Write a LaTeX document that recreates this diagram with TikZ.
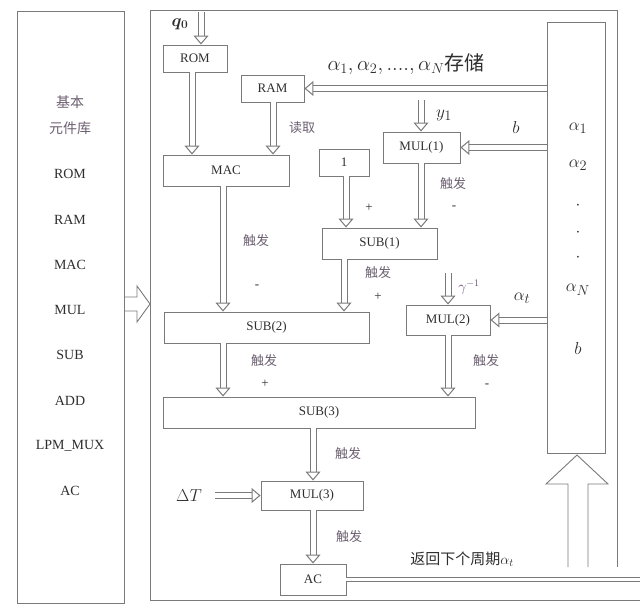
\documentclass[tikz,border=0pt]{standalone}
\usepackage{amsmath}
\usepackage{fontspec}
\setmainfont{Liberation Serif}
\newfontfamily\cjk{Noto Sans CJK SC}
\usetikzlibrary{arrows.meta}
\definecolor{lg}{HTML}{7A7A7A}
\definecolor{tx}{HTML}{2E2E2E}
\definecolor{cn}{HTML}{6B5E70}
\definecolor{gm}{HTML}{6A4A7A}
\begin{document}
\begin{tikzpicture}[x=1pt,y=-1pt,
  blk/.style={draw=lg,line width=0.9pt,inner sep=0pt,text=tx,font=\fontsize{13}{13}\selectfont},
  dbl/.style={draw=lg,line width=1pt,double=white,double distance=5pt,
    -{Triangle[open,length=9pt,width=15pt,line width=1pt]}},
  lib/.style={text=tx,font=\fontsize{14}{14}\selectfont},
  trig/.style={text=cn,font=\cjk\fontsize{13}{13}\selectfont},
  sgn/.style={text=tx,font=\fontsize{13}{13}\selectfont},
  big/.style={text=tx,font=\fontsize{19}{19}\selectfont},
  frame/.style={draw=lg,line width=0.9pt}
]
\useasboundingbox (0,0) rectangle (640,615);

% left library panel
\node[frame,minimum width=107pt,minimum height=592pt,inner sep=0pt] (lib) at (70.5,307) {};
\node[lib,font=\cjk\fontsize{14}{14}\selectfont,text=cn] (l0) at (70,102) {基本};
\node[lib,font=\cjk\fontsize{14}{14}\selectfont,text=cn] (l1) at (70,128) {元件库};
\node[lib] (l2) at (70,174) {ROM};
\node[lib] (l3) at (70,220) {RAM};
\node[lib] (l4) at (70,265) {MAC};
\node[lib] (l5) at (70,310) {MUL};
\node[lib] (l6) at (70,355) {SUB};
\node[lib] (l7) at (70,401) {ADD};
\node[lib] (l8) at (70,446) {LPM\_MUX};
\node[lib] (l9) at (70,491) {AC};
\draw[frame] (124,297) -- (137,297) -- (137,286) -- (150,304) -- (137,322) -- (137,311) -- (124,311);

% main frame
\draw[frame] (617,567) -- (617,10) -- (150,10) -- (150,600) -- (640,600);

% coefficient column
\node[frame,minimum width=58pt,minimum height=431pt,inner sep=0pt] (col) at (576,237.5) {};
\node[big] (c1) at (578,128) {$\alpha_1$};
\node[big] (c2) at (578,165) {$\alpha_2$};
\node[big] (c3) at (578,206) {$\cdot$};
\node[big] (c4) at (578,233) {$\cdot$};
\node[big] (c5) at (578,258) {$\cdot$};
\node[big] (c6) at (578,290) {$\alpha_N$};
\node[big] (c7) at (578,348) {$b$};
\draw[frame] (568,567) -- (568,484) -- (546,484) -- (577,455) -- (608,484) -- (588,484) -- (588,567);

% blocks
\node[blk,minimum width=64pt,minimum height=27pt] (rom) at (195,58.5) {ROM};
\node[blk,minimum width=63pt,minimum height=27pt] (ram) at (272.5,88.5) {RAM};
\node[blk,minimum width=126pt,minimum height=31pt] (mac) at (226,170.5) {MAC};
\node[blk,minimum width=50pt,minimum height=27pt] (one) at (344,162.5) {1};
\node[blk,minimum width=77pt,minimum height=31pt] (mul1) at (421.5,147.5) {MUL(1)};
\node[blk,minimum width=115pt,minimum height=31pt] (sub1) at (379.5,243.5) {SUB(1)};
\node[blk,minimum width=205pt,minimum height=31pt] (sub2) at (266.5,327.5) {SUB(2)};
\node[blk,minimum width=84pt,minimum height=30pt] (mul2) at (448,320) {MUL(2)};
\node[blk,minimum width=312pt,minimum height=31pt] (sub3) at (319,412.5) {SUB(3)};
\node[blk,minimum width=102pt,minimum height=29pt] (mul3) at (312,495.5) {MUL(3)};
\node[blk,minimum width=66pt,minimum height=31pt] (ac) at (313,579.5) {AC};

% helper coordinates
\coordinate (qin) at (201,12);
\coordinate (yin) at (421,100);
\coordinate (gin) at (448,273);
\coordinate (dtin) at (215,495.5);
\coordinate (xa) at (192,0);
\coordinate (xb) at (273,0);
\coordinate (xc) at (346,0);
\coordinate (xd) at (421,0);
\coordinate (xe) at (223,0);
\coordinate (xf) at (344,0);
\coordinate (xg) at (448,0);
\coordinate (xh) at (313,0);
\coordinate (rt) at (640,579.5);

% connectors
\draw[dbl] (qin) -- (rom.north -| qin);
\draw[dbl] (rom.south -| xa) -- (mac.north -| xa);
\draw[dbl] (ram.south -| xb) -- (mac.north -| xb);
\draw[dbl] (col.west |- ram.east) -- (ram.east);
\draw[dbl] (yin) -- (mul1.north -| yin);
\draw[dbl] (col.west |- mul1.east) -- (mul1.east);
\draw[dbl] (one.south -| xc) -- (sub1.north -| xc);
\draw[dbl] (mul1.south -| xd) -- (sub1.north -| xd);
\draw[dbl] (mac.south -| xe) -- (sub2.north -| xe);
\draw[dbl] (sub1.south -| xf) -- (sub2.north -| xf);
\draw[dbl] (gin) -- (mul2.north -| gin);
\draw[dbl] (col.west |- mul2.east) -- (mul2.east);
\draw[dbl] (sub2.south -| xe) -- (sub3.north -| xe);
\draw[dbl] (mul2.south -| xg) -- (sub3.north -| xg);
\draw[dbl] (sub3.south -| xh) -- (mul3.north -| xh);
\draw[dbl] (dtin) -- (mul3.west);
\draw[dbl] (mul3.south -| xh) -- (ac.north -| xh);
\draw[draw=lg,line width=0.9pt,double=white,double distance=3pt] (ac.east) -- (rt);

% labels
\node[big,font=\fontsize{18}{18}\selectfont] (q0) at (180,24) {$\boldsymbol{q_0}$};
\node[big,font=\fontsize{20}{20}\selectfont] (store) at (406,64) {$\alpha_1,\alpha_2,....,\alpha_N${\cjk 存储}};
\node[trig] (rd) at (302,128) {读取};
\node[big] (y1) at (444,115) {$y_1$};
\node[big] (bl) at (516,128) {$b$};
\node[trig] (t1) at (453,184) {触发};
\node[sgn] (s1) at (454,208) {-};
\node[sgn] (s2) at (369,208) {+};
\node[trig] (t2) at (256,241) {触发};
\node[sgn] (s3) at (257,287) {-};
\node[trig] (t3) at (378,273) {触发};
\node[sgn] (s4) at (378,297) {+};
\node[big,text=gm,font=\fontsize{14}{14}\selectfont] (gm) at (469,287) {$\gamma^{-1}$};
\node[big] (at) at (522,298) {$\alpha_t$};
\node[trig] (t4) at (264,361) {触发};
\node[sgn] (s5) at (265,384) {+};
\node[trig] (t5) at (486,361) {触发};
\node[sgn] (s6) at (487,386) {-};
\node[trig] (t6) at (348,454) {触发};
\node[big] (dt) at (189,496) {$\Delta T$};
\node[trig] (t7) at (349,537) {触发};
\node[text=tx,font=\fontsize{15}{15}\selectfont] (ret) at (462,559) {{\cjk 返回下个周期}$\alpha_t$};
\end{tikzpicture}
\end{document}
